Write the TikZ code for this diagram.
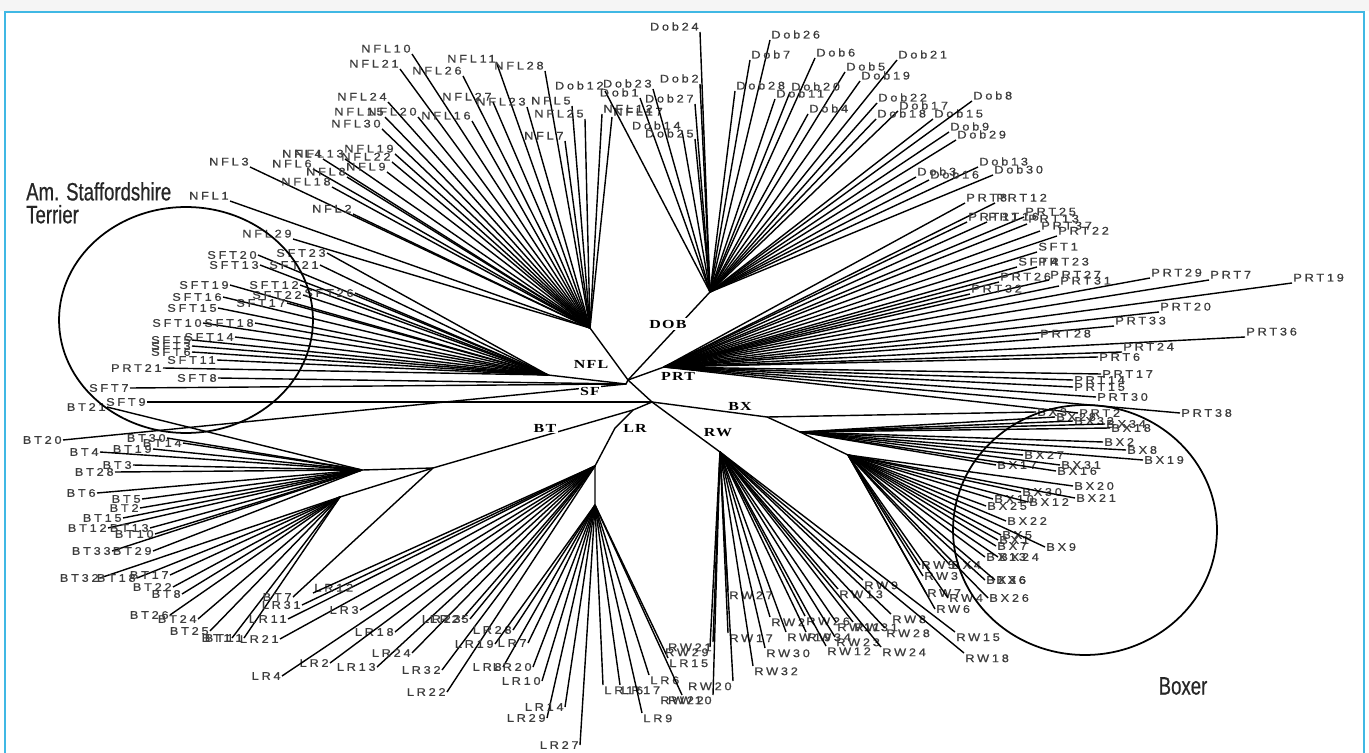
\documentclass[tikz,border=0pt]{standalone}
\usepackage{fontspec}
\setmainfont{Liberation Sans}
\newfontfamily\leaffamily[LetterSpace=25,FakeStretch=1.15,FakeBold=0.8]{Liberation Sans}
\newfontfamily\cladefamily[LetterSpace=10,FakeStretch=1.3]{Liberation Serif}
\newfontfamily\capfamily[FakeStretch=0.74,FakeBold=0.6]{Liberation Sans}
\definecolor{framecyan}{RGB}{64,184,228}
\definecolor{leafgray}{RGB}{60,60,60}
\tikzset{
  leaf/.style={font=\leaffamily\fontsize{6.3}{7}\selectfont, text=leafgray, inner sep=0.6pt},
  clade/.style={font=\cladefamily\bfseries\fontsize{7}{8}\selectfont, inner sep=0.8pt, fill=white},
  br/.style={line width=0.8pt},
  caption/.style={font=\capfamily\fontsize{14.3}{16}\selectfont, align=left, text=black!85}
}
\begin{document}
\begin{tikzpicture}[x={(0.02cm,0)},y={(0,-0.02cm)}]
\useasboundingbox (0,0) rectangle (1369,753);
\fill[gray!8] (0,0) rectangle (1369,11);
\draw[framecyan,line width=1.5pt] (5,760) -- (5,12) -- (1364,12) -- (1364,760);

% inner part of the tree
\coordinate (c1) at (628,380);
\coordinate (c2) at (652,402);
\coordinate (nflc) at (590,328);
\coordinate (dobc) at (710,292);
\coordinate (prtc) at (664,367);
\coordinate (sfc) at (626,384);
\coordinate (sfa) at (548,375);
\coordinate (lb) at (633,410);
\coordinate (btc) at (433,468);
\coordinate (bta) at (362,470);
\coordinate (btb) at (340,497);
\coordinate (lr1) at (615,428);
\coordinate (lrc) at (595,466);
\coordinate (lrb) at (595,505);
\coordinate (bx1) at (767,417);
\coordinate (bxa) at (800,432);
\coordinate (bxb) at (848,455);
\coordinate (rwc) at (720,452);
\draw[br] (nflc) -- (c1) -- (dobc);
\draw[br] (c1) -- (prtc);
\draw[br] (c1) -- (sfc) -- (sfa);
\draw[br] (c1) -- (c2) -- (lb) -- (btc) -- (bta);
\draw[br] (btc) -- (btb);
\draw[br] (lb) -- (lr1) -- (lrc) -- (lrb);
\draw[br] (c2) -- (bx1) -- (bxa) -- (bxb);
\draw[br] (c2) -- (rwc);

% NFL
\foreach \n/\x/\y in {NFL10/412/54, NFL21/400/69, NFL11/497/64, NFL26/463/76,
  NFL28/545/71, NFL24/388/102, NFL27/493/102, NFL23/527/107, NFL5/572/106,
  NFL15/385/117, NFL20/418/117, NFL16/472/121, NFL30/382/129, NFL25/585/119,
  NFL7/565/141, NFL3/250/167, NFL6/313/169, NFL4/323/159, NFL13/345/159,
  NFL19/395/154, NFL22/392/162, NFL9/387/172, NFL8/347/177, NFL18/332/187,
  NFL1/230/201, NFL2/353/214, NFL29/293/239}
  {\node[leaf,anchor=south east] (\n) at (\x,\y) {\n};
   \draw[br] (nflc) -- (\n.south east);}
\foreach \n/\x/\y in {NFL12/602/114, NFL17/612/117}
  {\node[leaf,anchor=south west] (\n) at (\x,\y) {\n};
   \draw[br] (nflc) -- (\n.south west);}

% Dob
\foreach \n/\x/\y in {Dob24/700/32, Dob12/605/91, Dob23/653/89, Dob1/640/98,
  Dob2/700/84, Dob27/695/104, Dob14/682/131, Dob25/695/139}
  {\node[leaf,anchor=south east] (\n) at (\x,\y) {\n};
   \draw[br] (dobc) -- (\n.south east);}
\foreach \n/\x/\y in {Dob26/770/40, Dob7/750/60, Dob6/815/58, Dob21/897/60,
  Dob5/845/72, Dob19/860/81, Dob28/735/91, Dob20/790/92, Dob11/775/99,
  Dob4/808/114, Dob22/877/103, Dob17/898/111, Dob18/876/119, Dob15/933/119,
  Dob8/972/101, Dob9/949/132, Dob29/956/140, Dob13/978/167, Dob30/993/175,
  Dob3/916/177, Dob16/929/180}
  {\node[leaf,anchor=south west] (\n) at (\x,\y) {\n};
   \draw[br] (dobc) -- (\n.south west);}

% PRT
\foreach \n/\x/\y in {PRT8/965/203, PRT12/995/203, PRT25/1024/217, PRT11/967/222,
  PRT16/987/222, PRT13/1027/224, PRT37/1040/231, PRT22/1057/236, SFT1/1037/252,
  SFT4/1017/267, PRT23/1037/267, PRT26/999/282, PRT27/1049/280, PRT31/1059/286,
  PRT32/970/294, PRT29/1150/278, PRT7/1209/280, PRT19/1292/283, PRT20/1159/312,
  PRT33/1114/326, PRT36/1245/337, PRT28/1039/339, PRT24/1122/352}
  {\node[leaf,anchor=south west] (\n) at (\x,\y) {\n};
   \draw[br] (prtc) -- (\n.south west);}
\foreach \n/\x/\y in {PRT6/1098/357, PRT17/1101/374, PRT14/1073/380,
  PRT15/1073/387, PRT30/1096/397, PRT38/1180/413, PRT2/1078/413}
  {\node[leaf,anchor=west] (\n) at (\x,\y) {\n};
   \draw[br] (prtc) -- (\n.west);}

% SF
\foreach \n/\x/\y in {SFT20/258/255, SFT23/327/253, SFT13/260/265, SFT21/320/265,
  SFT19/230/285, SFT12/300/285, SFT22/303/295, SFT26/355/293, SFT16/223/297,
  SFT17/287/303, SFT15/218/308, SFT10/203/323, SFT18/255/323, SFT14/235/337,
  SFT5/192/340, SFT3/192/346, SFT6/192/352, SFT11/217/360, PRT21/163/368}
  {\node[leaf,anchor=east] (\n) at (\x,\y) {\n};
   \draw[br] (sfa) -- (\n.east);}
\foreach \n/\x/\y in {SFT8/218/378, SFT7/130/388, BT20/63/440}
  {\node[leaf,anchor=east] (\n) at (\x,\y) {\n};
   \draw[br] (sfc) -- (\n.east);}
\node[leaf,anchor=east] (SFT9) at (147,402) {SFT9};
\draw[br] (c2) -- (SFT9.east);

% BT
\foreach \n/\x/\y in {BT21/107/407, BT30/167/438, BT19/153/449, BT14/183/443,
  BT4/100/452, BT3/133/465, BT28/115/472, BT6/97/493, BT5/142/499, BT2/140/508,
  BT15/123/518, BT12/108/528, BT13/150/528, BT10/155/534, BT33/112/551,
  BT29/153/551}
  {\node[leaf,anchor=east] (\n) at (\x,\y) {\n};
   \draw[br] (bta) -- (\n.east);}
\foreach \n/\x/\y in {BT32/100/578, BT18/137/578, BT17/170/575, BT22/173/587,
  BT8/182/594, BT26/170/615, BT24/198/619, BT25/210/631, BT1/232/638, BT11/244/638}
  {\node[leaf,anchor=east] (\n) at (\x,\y) {\n};
   \draw[br] (btb) -- (\n.east);}
\node[leaf,anchor=east] (BT7) at (293,597) {BT7};
\draw[br] (btc) -- (BT7.east);

% LR
\foreach \n/\x/\y in {LR31/302/605, LR11/288/619, LR21/280/639, LR3/360/610,
  LR18/395/632, LR2/330/663, LR13/377/667, LR24/412/653, LR4/282/676,
  LR23/462/619, LR25/470/619, LR32/442/670, LR22/447/692}
  {\node[leaf,anchor=east] (\n) at (\x,\y) {\n};
   \draw[br] (lrc) -- (\n.east);}
\node[leaf,anchor=south west] (LR12) at (313,593) {LR12};
\draw[br] (lrc) -- (LR12.south west);
\foreach \n/\x/\y in {LR28/513/630, LR19/495/644, LR7/528/643, LR8/503/667,
  LR20/533/667, LR10/542/681, LR29/547/718, LR14/565/707, LR27/580/745}
  {\node[leaf,anchor=east] (\n) at (\x,\y) {\n};
   \draw[br] (lrb) -- (\n.east);}
\foreach \n/\x/\y in {LR16/603/685, LR17/620/685, LR9/642/713, LR6/649/675,
  LR15/668/658}
  {\node[leaf,anchor=north west] (\n) at (\x,\y) {\n};
   \draw[br] (lrb) -- (\n.north west);}
\node[leaf,anchor=north] (RW22) at (682,695) {RW22};
\draw[br] (lrb) -- (RW22.north);

% RW
\foreach \n/\x/\y in {RW27/728/590, RW17/728/633, RW30/765/648, RW32/753/666,
  RW2/770/617, RW26/805/616, RW19/786/632, RW34/806/632, RW11/836/622,
  RW31/853/622, RW23/835/637, RW12/826/646, RW24/881/647, RW13/838/589,
  RW9/863/580, RW8/891/614, RW28/885/628, RW15/955/632, RW18/964/653}
  {\node[leaf,anchor=north west] (\n) at (\x,\y) {\n};
   \draw[br] (rwc) -- (\n.north west);}
\foreach \n/\x/\y in {RW20/733/681, RW21/713/642, RW29/710/647, RW10/713/695}
  {\node[leaf,anchor=north east] (\n) at (\x,\y) {\n};
   \draw[br] (rwc) -- (\n.north east);}

% BX
\node[leaf,anchor=west] (BX3) at (1036,412) {BX3};
\draw[br] (bx1) -- (BX3.west);
\foreach \n/\x/\y in {BX28/1055/417, BX32/1073/421, BX34/1105/424, BX18/1110/428,
  BX2/1103/442, BX8/1126/450, BX19/1143/460, BX27/1023/455, BX17/996/465,
  BX31/1060/465, BX16/1056/471}
  {\node[leaf,anchor=west] (\n) at (\x,\y) {\n};
   \draw[br] (bxa) -- (\n.west);}
\foreach \n/\x/\y in {BX20/1073/486, BX30/1021/492, BX21/1075/498, BX10/993/499,
  BX12/1028/502, BX25/986/506, BX22/1006/521, BX5/1001/535, BX1/998/540,
  BX7/996/546, BX9/1045/547, BX13/985/557, BX24/998/557, BX4/950/565,
  BX36/985/580, BX6/995/580, BX26/988/598}
  {\node[leaf,anchor=west] (\n) at (\x,\y) {\n};
   \draw[br] (bxb) -- (\n.west);}
\foreach \n/\x/\y in {RW5/920/565, RW3/923/576, RW7/926/593, RW4/948/598, RW6/935/609}
  {\node[leaf,anchor=west] (\n) at (\x,\y) {\n};
   \draw[br] (bxb) -- (\n.west);}

% clade names
\node[clade] (dob) at (668,324) {DOB};
\node[clade] (nfl) at (591,364) {NFL};
\node[clade] (prt) at (678,376) {PRT};
\node[clade] (sf) at (590,391) {SF};
\node[clade] (bx) at (740,406) {BX};
\node[clade] (bt) at (545,428) {BT};
\node[clade] (lr) at (635,428) {LR};
\node[clade] (rw) at (718,433) {RW};

% breed circles
\draw[line width=1pt] (186,320) ellipse [x radius=2.54cm, y radius=2.26cm];
\draw[line width=1pt] (1085,530) ellipse [x radius=2.64cm, y radius=2.5cm];
\node[caption,anchor=north west] (staff) at (20,176) {Am. Staffordshire\\[-3pt]Terrier};
\node[caption,anchor=center] (boxer) at (1183,686) {Boxer};
\end{tikzpicture}
\end{document}
